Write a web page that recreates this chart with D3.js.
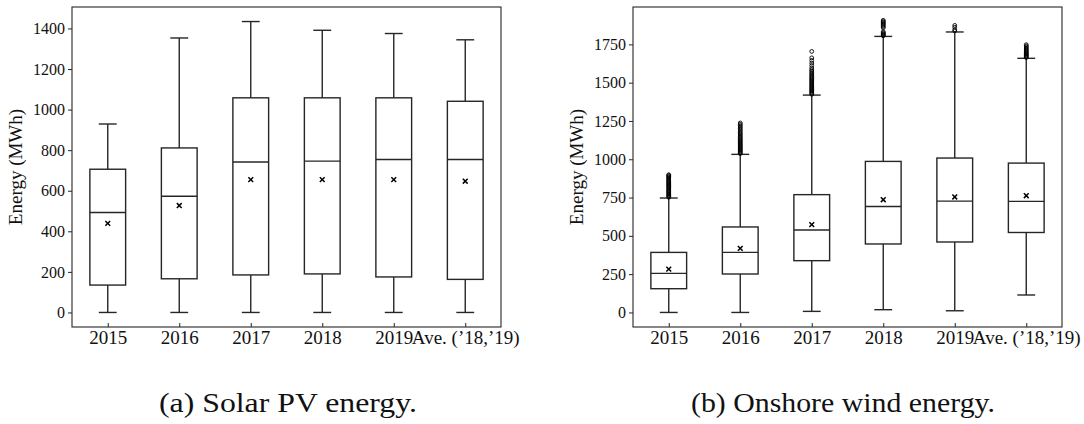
<!DOCTYPE html>
<html>
<head>
<meta charset="utf-8">
<script src="https://cdn.jsdelivr.net/npm/d3@7"></script>
<style>
  body { margin: 0; background: #fff; }
  svg { display: block; }
  text { font-family: "Liberation Serif", "Times New Roman", serif; fill: #111; }
</style>
</head>
<body>
<svg id="chart" width="1084" height="424"></svg>
<script>
// categories on the x axis (same for both panels)
const groups = ["2015", "2016", "2017", "2018", "2019", "Ave. (\u201918,\u201919)"];

// (a) solar PV energy, MWh
const solarLow    = [0, 0, 0, 0, 0, 0];
const solarQ1     = [135, 166, 185, 190, 175, 163];
const solarMedian = [493, 573, 742, 746, 754, 754];
const solarQ3     = [706, 811, 1058, 1058, 1058, 1041];
const solarHigh   = [929, 1353, 1434, 1391, 1375, 1344];
const solarMean   = [439, 527, 655, 655, 655, 647];
const solarTicks  = [0, 200, 400, 600, 800, 1000, 1200, 1400];

// (b) onshore wind energy, MWh
const windLow    = [0, 0, 7, 18, 11, 114];
const windQ1     = [155, 251, 338, 447, 460, 522];
const windMedian = [255, 392, 538, 692, 727, 725];
const windQ3     = [392, 558, 769, 986, 1008, 975];
const windHigh   = [747, 1032, 1419, 1802, 1831, 1659];
const windMean   = [283, 418, 573, 736, 754, 762];
const windTicks  = [0, 250, 500, 750, 1000, 1250, 1500, 1750];
const windOutliers = [
  [752, 757, 763, 769, 774, 781, 787, 792, 798, 805, 811, 816, 823, 829, 834, 841, 846, 853, 858, 864, 871, 877, 883, 888, 894, 899],
  [1037, 1043, 1049, 1056, 1062, 1068, 1075, 1081, 1088, 1094, 1101, 1108, 1114, 1121, 1128, 1135, 1142, 1150, 1158, 1166, 1174, 1183, 1192, 1201, 1210, 1219, 1228, 1237],
  [1424, 1431, 1437, 1444, 1450, 1457, 1463, 1470, 1477, 1484, 1491, 1498, 1505, 1512, 1519, 1526, 1533, 1541, 1549, 1557, 1566, 1575, 1584, 1596, 1612, 1628, 1645, 1662, 1704],
  [1806, 1811, 1815, 1820, 1826, 1832, 1858, 1866, 1873, 1880, 1887, 1894, 1900, 1907],
  [1838, 1846, 1862, 1874],
  [1664, 1669, 1674, 1679, 1684, 1689, 1695, 1701, 1707, 1713, 1719, 1726, 1733, 1740, 1748]
];

const svg = d3.select("#chart");
const ink = "#262626";

function drawPanel(p) {
  const x = d3.scaleLinear().domain([0.5, groups.length + 0.5]).range([p.left, p.right]);
  const y = d3.scaleLinear().domain(p.yDomain).range([p.bottom, p.top]);
  const g = svg.append("g");
  const boxW = x(1.5) - x(1.25);   // half-width of a box (0.25 units)
  const capW = x(1.25) - x(1.125); // half-width of a whisker cap

  // y axis: outward ticks
  const ya = g.append("g")
    .attr("transform", `translate(${p.left},0)`)
    .call(d3.axisLeft(y).tickValues(p.ticks).tickSize(4).tickPadding(3).tickFormat(d3.format("d")));
  ya.select(".domain").remove();
  ya.selectAll("line").attr("stroke", ink).attr("stroke-width", 1);
  ya.selectAll("text").attr("font-size", 16).attr("font-family", null).attr("fill", "#111");

  // x axis: inward ticks
  const xa = g.append("g")
    .attr("transform", `translate(0,${p.bottom})`)
    .call(d3.axisBottom(x).tickValues(d3.range(1, groups.length + 1)).tickSize(-4).tickPadding(4)
      .tickFormat((d) => groups[d - 1]));
  xa.select(".domain").remove();
  xa.selectAll("line").attr("stroke", ink).attr("stroke-width", 1);
  xa.selectAll("text").attr("font-size", 19).attr("fill", "#111");

  groups.forEach((name, i) => {
    const cx = x(i + 1);
    const b = g.append("g").attr("stroke", ink).attr("stroke-width", 1.4).attr("fill", "none");
    // whiskers
    b.append("line").attr("x1", cx).attr("x2", cx).attr("y1", y(p.low[i])).attr("y2", y(p.q1[i]));
    b.append("line").attr("x1", cx).attr("x2", cx).attr("y1", y(p.q3[i])).attr("y2", y(p.high[i]));
    b.append("line").attr("x1", cx - capW).attr("x2", cx + capW).attr("y1", y(p.low[i])).attr("y2", y(p.low[i]));
    b.append("line").attr("x1", cx - capW).attr("x2", cx + capW).attr("y1", y(p.high[i])).attr("y2", y(p.high[i]));
    // box
    b.append("rect").attr("x", cx - boxW).attr("width", 2 * boxW)
      .attr("y", y(p.q3[i])).attr("height", y(p.q1[i]) - y(p.q3[i]));
    // median
    b.append("line").attr("x1", cx - boxW).attr("x2", cx + boxW).attr("y1", y(p.median[i])).attr("y2", y(p.median[i]));
    // mean marker (x)
    const my = y(p.mean[i]), s = 2.4;
    b.append("path").attr("stroke", "#000").attr("stroke-width", 1.5)
      .attr("d", `M${cx - s},${my - s}L${cx + s},${my + s}M${cx - s},${my + s}L${cx + s},${my - s}`);
    // outliers
    if (p.outliers) {
      b.selectAll("circle.o").data(p.outliers[i]).enter().append("circle")
        .attr("cx", cx).attr("cy", (d) => y(d)).attr("r", 1.9)
        .attr("stroke", "#000").attr("stroke-width", 0.9).attr("fill", "none");
    }
  });

  // frame
  g.append("rect").attr("x", p.left).attr("y", p.top)
    .attr("width", p.right - p.left).attr("height", p.bottom - p.top)
    .attr("fill", "none").attr("stroke", ink).attr("stroke-width", 1.1);

  // y label
  g.append("text")
    .attr("transform", `translate(${p.labelX},${(p.top + p.bottom) / 2}) rotate(-90)`)
    .attr("text-anchor", "middle").attr("font-size", 19)
    .text("Energy (MWh)");

  // caption
  g.append("text")
    .attr("x", p.capX).attr("y", 412).attr("text-anchor", "middle")
    .attr("font-size", 27).attr("textLength", p.capW).attr("lengthAdjust", "spacingAndGlyphs")
    .text(p.caption);
}

drawPanel({
  left: 72, right: 501, top: 7, bottom: 327,
  yDomain: [-71.7, 1505.7], ticks: solarTicks,
  low: solarLow, q1: solarQ1, median: solarMedian, q3: solarQ3, high: solarHigh, mean: solarMean,
  labelX: 22, caption: "(a) Solar PV energy.", capX: 288, capW: 258
});

drawPanel({
  left: 633, right: 1062, top: 7, bottom: 327,
  yDomain: [-95, 1994], ticks: windTicks,
  low: windLow, q1: windQ1, median: windMedian, q3: windQ3, high: windHigh, mean: windMean,
  outliers: windOutliers,
  labelX: 583, caption: "(b) Onshore wind energy.", capX: 843, capW: 304
});
</script>
</body>
</html>
